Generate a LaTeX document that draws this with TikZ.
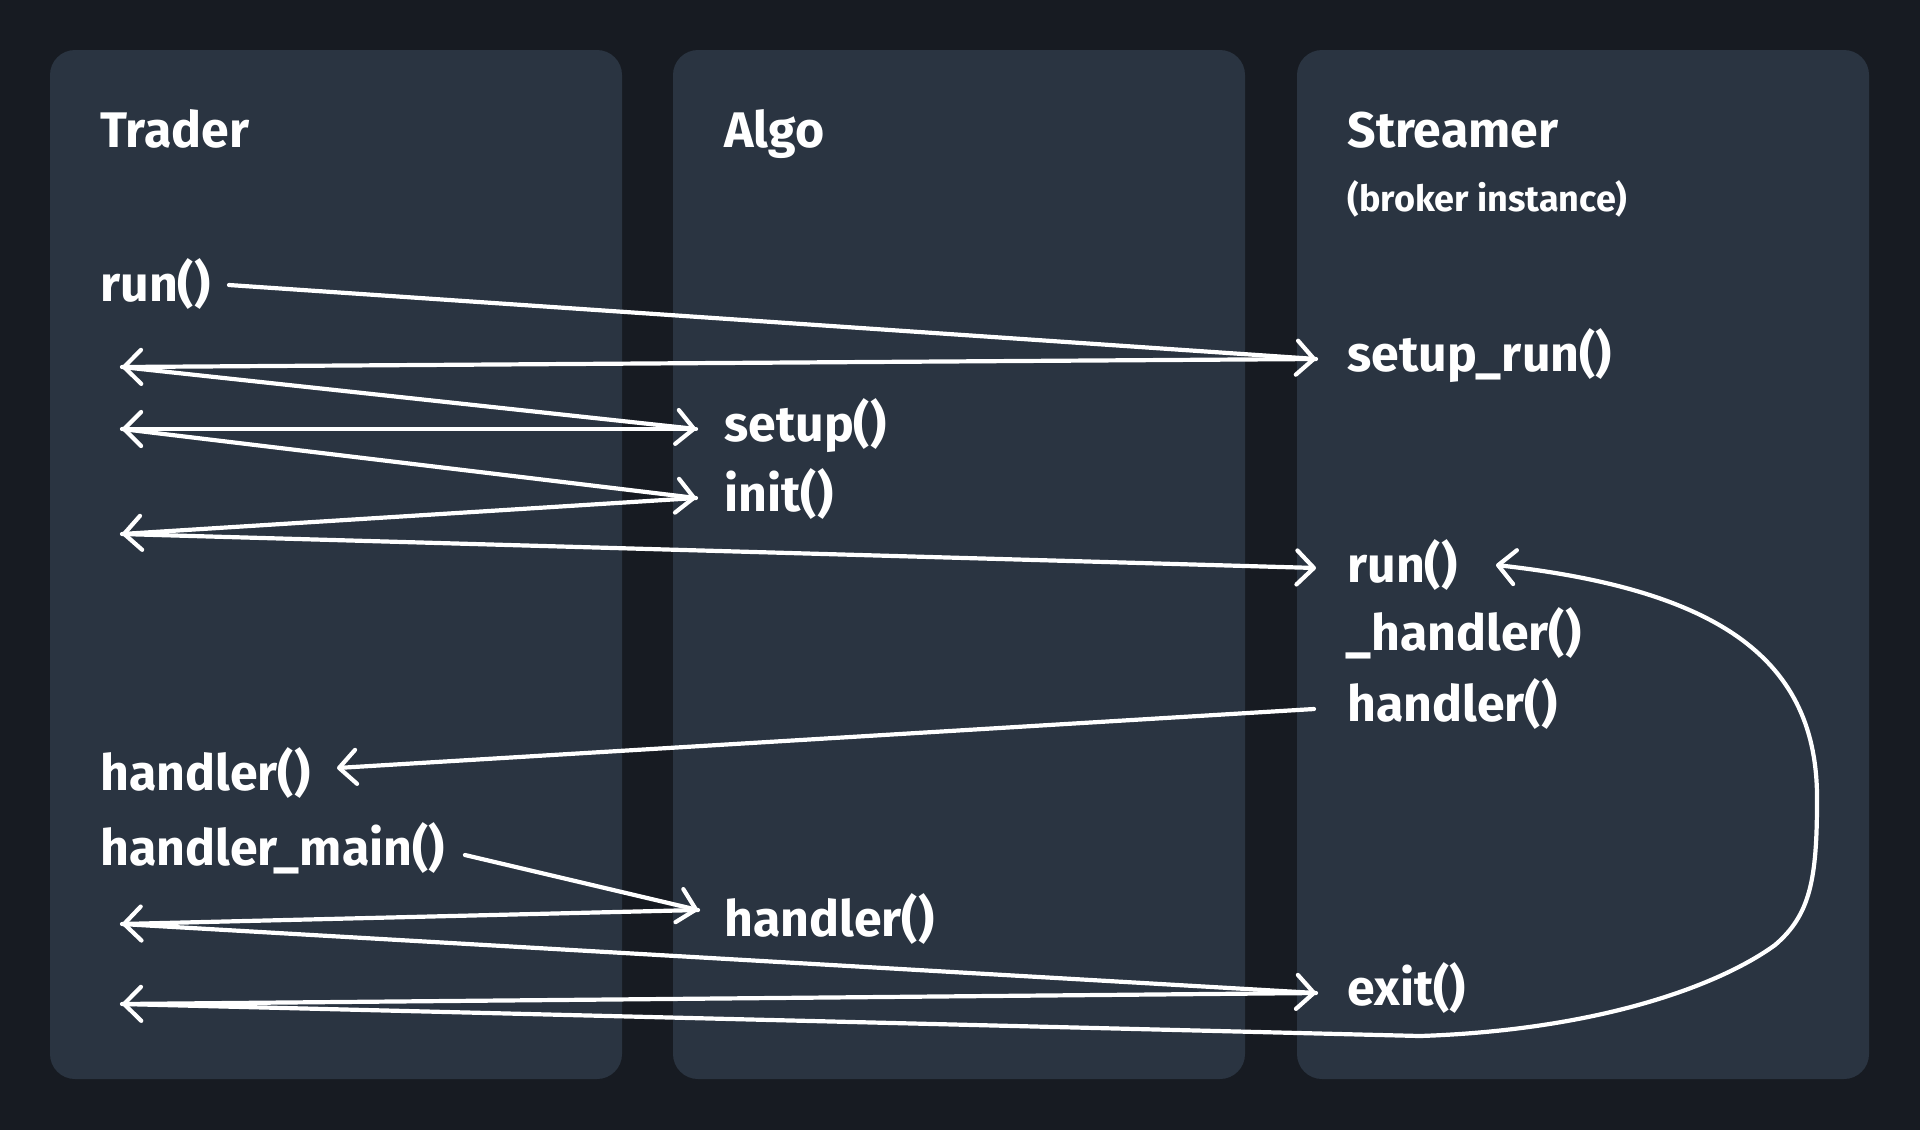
\documentclass[tikz,border=0pt]{standalone}
\usepackage{fontspec}
\setmainfont{Fira Sans}
\usetikzlibrary{arrows.meta}
\definecolor{bgc}{RGB}{23,27,34}
\definecolor{panelc}{RGB}{42,52,65}
\tikzset{
  panel/.style={fill=panelc, rounded corners=12.5pt},
  title/.style={anchor=base west, inner sep=0pt, text=white, font=\fontsize{25}{29}\selectfont\bfseries},
  sub/.style={anchor=base west, inner sep=0pt, text=white, font=\fontsize{18}{22}\selectfont\bfseries},
  fn/.style={anchor=base west, inner sep=0pt, text=white, font=\fontsize{25}{29}\selectfont\bfseries},
  conn/.style={draw=white, line width=2.1pt, line cap=round, line join=round,
    -{Straight Barb[length=8.5pt,width=17pt,line width=2.1pt,round]}}
}
\begin{document}
\begin{tikzpicture}[x=0.5pt,y=-0.5pt]
\fill[bgc] (0,0) rectangle (1920,1130);
\useasboundingbox (0,0) rectangle (1920,1130);
% panels
\fill[panel] (50,50) rectangle (622,1079);
\fill[panel] (673,50) rectangle (1245,1079);
\fill[panel] (1297,50) rectangle (1869,1079);
% titles
\node[title] (trader) at (100,147) {Trader};
\node[title] (algo) at (724,147) {Algo};
\node[title] (streamer) at (1347,147) {Streamer};
\node[sub] (broker) at (1347,211) {(broker instance)};
% functions
\node[fn] (runT) at (100,301) {run()};
\node[fn] (setuprun) at (1347,371) {setup\_run()};
\node[fn] (setup) at (724,441) {setup()};
\node[fn] (init) at (724,511) {init()};
\node[fn] (runS) at (1347,582) {run()};
\node[fn] (uhandler) at (1345,650) {\_handler()};
\node[fn] (handlerS) at (1347,721) {handler()};
\node[fn] (handlerT) at (100,790) {handler()};
\node[fn] (hmain) at (100,865) {handler\_main()};
\node[fn] (handlerA) at (724,936) {handler()};
\node[fn] (exitS) at (1347,1005) {exit()};
% connector endpoints
\coordinate (runTout) at (229,285);
\coordinate (setuprunin) at (1316,359);
\coordinate (L1) at (122,367);
\coordinate (setupin) at (696,429);
\coordinate (L2) at (122,429);
\coordinate (initin) at (696,498);
\coordinate (L3) at (122,534);
\coordinate (runSin) at (1316,568);
\coordinate (handlerSout) at (1314,709);
\coordinate (handlerTin) at (337,768);
\coordinate (hmainout) at (465,855);
\coordinate (handlerAin) at (698,910);
\coordinate (L4) at (122,924);
\coordinate (exitin) at (1316,993);
\coordinate (L5) at (122,1004);
\coordinate (loopin) at (1496,565);
\coordinate (bend) at (1420,1036);
% connectors
\draw[conn] (runTout) -- (setuprunin);
\draw[conn] (setuprunin) -- (L1);
\draw[conn] (L1) -- (setupin);
\draw[conn] (setupin) -- (L2);
\draw[conn] (L2) -- (initin);
\draw[conn] (initin) -- (L3);
\draw[conn] (L3) -- (runSin);
\draw[conn] (handlerSout) -- (handlerTin);
\draw[conn] (hmainout) -- (handlerAin);
\draw[conn] (handlerAin) -- (L4);
\draw[conn] (L4) -- (exitin);
\draw[conn] (exitin) -- (L5);
\draw[conn] (L5) -- (bend)
  .. controls (1600,1030) and (1720,985) .. (1775,945)
  .. controls (1810,915) and (1817,880) .. (1817,800)
  .. controls (1818,660) and (1720,590) .. (loopin);
\end{tikzpicture}
\end{document}
